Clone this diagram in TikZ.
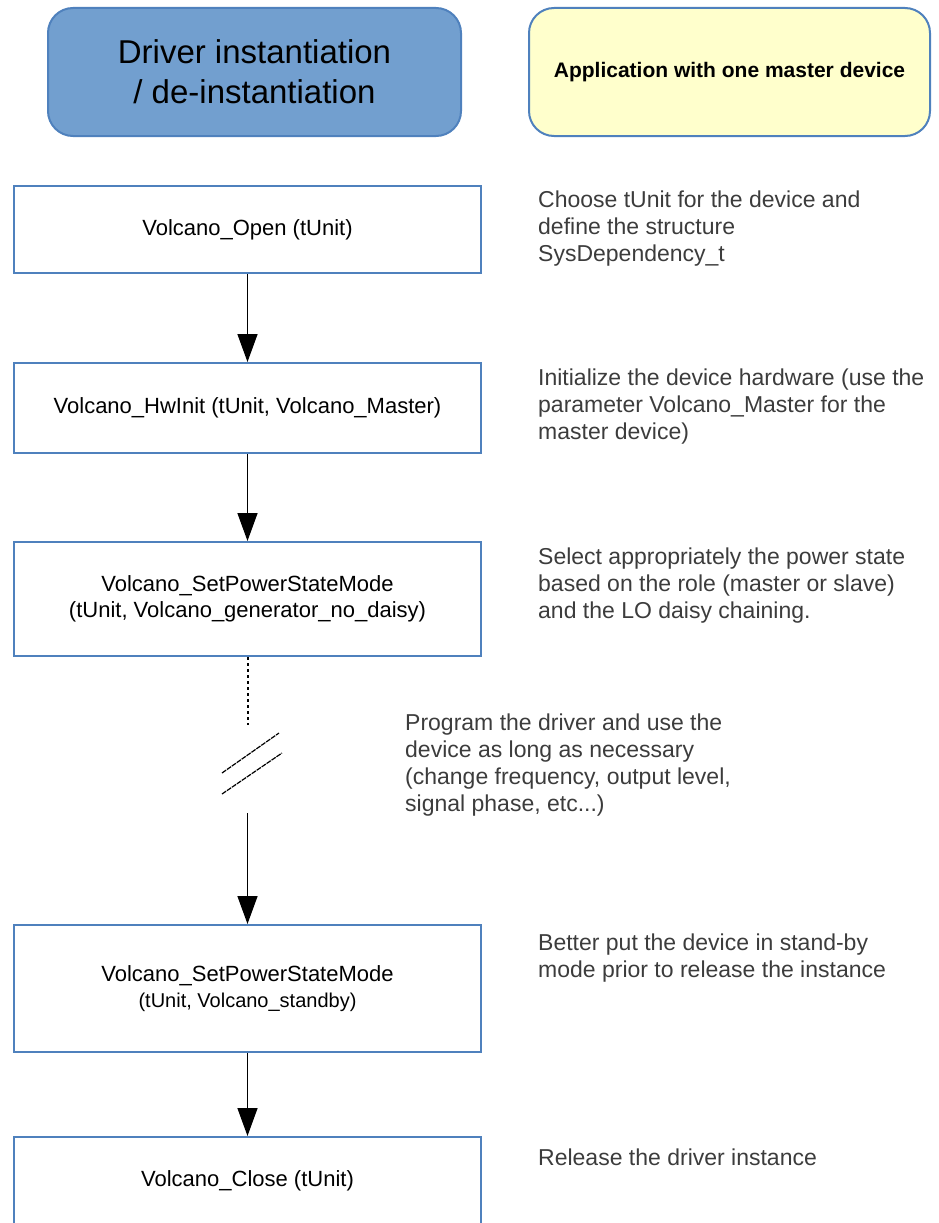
\documentclass[tikz,border=0pt]{standalone}
\usepackage{fontspec}
\setmainfont{Liberation Sans}
\usetikzlibrary{arrows.meta}
\definecolor{boxline}{RGB}{79,129,189}
\definecolor{titleblue}{RGB}{114,159,207}
\definecolor{noteyellow}{RGB}{255,255,204}
\definecolor{notegray}{RGB}{60,60,60}
\tikzset{
  headbox/.style={draw=boxline, line width=2pt, rounded corners=25pt, minimum height=128pt, align=center},
  callbox/.style={draw=boxline, line width=2pt, minimum width=467pt, align=center, font=\fontsize{22}{26}\selectfont},
  note/.style={anchor=base west, align=left, inner sep=0pt, text=notegray, font=\fontsize{23}{27}\selectfont},
  flow/.style={-{Triangle[width=20pt,length=28pt]}, line width=1.5pt},
}
\begin{document}
\begin{tikzpicture}[x=1pt,y=-1pt]
    \useasboundingbox (0,0) rectangle (939,1223);
    \clip (0,0) rectangle (939,1223);
    % header
    \node[headbox, fill=titleblue, minimum width=413pt, font=\fontsize{33}{40}\selectfont] (title) at (254.5,72) {Driver instantiation\\/ de-instantiation};
    \node[headbox, fill=noteyellow, minimum width=401pt, font=\bfseries\fontsize{21}{25}\selectfont] (app) at (729.5,72) {Application with one master device};
    % calls
    \node[callbox, minimum height=87pt] (open) at (247.5,229.5) {Volcano\_Open (tUnit)};
    \node[callbox, minimum height=90pt] (hwinit) at (247.5,408) {Volcano\_HwInit (tUnit, Volcano\_Master)};
    \node[callbox, minimum height=114pt] (power) at (247.5,599) {Volcano\_SetPowerStateMode\\(tUnit, Volcano\_generator\_no\_daisy)};
    \node[callbox, minimum height=127pt] (standby) at (247.5,988.5) {Volcano\_SetPowerStateMode\\{\fontsize{20}{24}\selectfont (tUnit, Volcano\_standby)}};
    \node[callbox, minimum height=88pt] (close) at (247.5,1181) {Volcano\_Close (tUnit)};
    \coordinate (cutA) at (247.5,725);
    \coordinate (cutB) at (247.5,813);
    \draw[flow] (open) -- (hwinit);
    \draw[flow] (hwinit) -- (power);
    \draw[line width=2pt, dash pattern=on 3pt off 3pt] (power.south) -- (cutA);
    \draw[line width=1.2pt, dash pattern=on 5pt off 1pt] (222,773) -- (279,733);
    \draw[line width=1.2pt, dash pattern=on 5pt off 1pt] (222,794) -- (282,753);
    \draw[flow] (cutB) -- (standby);
    \draw[flow] (standby) -- (close);
    % notes (base = last line)
    \node[note] (n1) at (538,261) {Choose tUnit for the device and\\define the structure\\SysDependency\_t};
    \node[note] (n2) at (538,439) {Initialize the device hardware (use the\\parameter Volcano\_Master for the\\master device)};
    \node[note] (n3) at (538,618) {Select appropriately the power state\\based on the role (master or slave)\\and the LO daisy chaining.};
    \node[note] (n4) at (405,811) {Program the driver and use the\\device as long as necessary\\(change frequency, output level,\\signal phase, etc...)};
    \node[note] (n5) at (538,977) {Better put the device in stand-by\\mode prior to release the instance};
    \node[note] (n6) at (538,1165) {Release the driver instance};
\end{tikzpicture}
\end{document}
